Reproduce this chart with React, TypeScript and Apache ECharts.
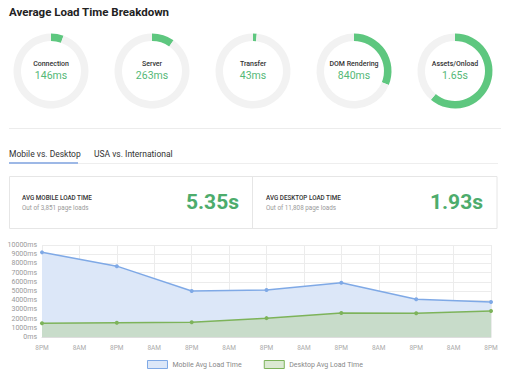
import React, { useEffect, useRef } from "react";
import * as echarts from "echarts";

const breakdownLabels = ["Connection", "Server", "Transfer", "DOM Rendering", "Assets/Onload"];
const breakdownValues = [146, 263, 43, 840, 1650];
const breakdownText = ["146ms", "263ms", "43ms", "840ms", "1.65s"];
const ringMax = 2700;
const tabLabels = ["Mobile vs. Desktop", "USA vs. International"];
const statTitles = ["AVG MOBILE LOAD TIME", "AVG DESKTOP LOAD TIME"];
const statSubs = ["Out of 3,851 page loads", "Out of 11,808 page loads"];
const statValues = ["5.35s", "1.93s"];
const timeLabels = ["8PM", "8AM", "8PM", "8AM", "8PM", "8AM", "8PM", "8AM", "8PM", "8AM", "8PM", "8AM", "8PM"];
const mobileValues = [9200, null, 7700, null, 5000, null, 5100, null, 5900, null, 4100, null, 3800];
const desktopValues = [1500, null, 1550, null, 1600, null, 2050, null, 2600, null, 2580, null, 2830];
const seriesNames = ["Mobile Avg Load Time", "Desktop Avg Load Time"];

const FONT = "Roboto, 'Noto Sans', sans-serif";
const GREEN = "#5ec77f";
const GREEN_TEXT = "#55b877";
const BLUE_LINE = "#7fa9e6";
const BLUE_FILL = "#dce7f8";
const DESK_LINE = "#7db35a";
const DESK_FILL = "#c8dcca";

export default function App() {
  const ref = useRef<HTMLDivElement>(null);
  useEffect(() => {
    if (!ref.current) return;
    const chart = echarts.init(ref.current, undefined, { renderer: "svg" });
    const ringCenters = [51, 152, 253, 354, 455];
    const pies: any[] = breakdownValues.map((v, i) => ({
      type: "pie",
      silent: true,
      center: [ringCenters[i], 71],
      radius: [30, 37.5],
      startAngle: 90,
      clockwise: true,
      label: { show: false },
      labelLine: { show: false },
      emphasis: { disabled: true },
      data: [
        { value: v, itemStyle: { color: GREEN } },
        { value: ringMax - v, itemStyle: { color: "#f2f2f2" } },
      ],
    }));
    const graphics: any[] = [
      {
        type: "text",
        left: 9,
        top: 6,
        style: { text: "Average Load Time Breakdown", font: `bold 11.5px ${FONT}`, fill: "#222" },
      },
    ];
    breakdownLabels.forEach((l, i) => {
      graphics.push({
        type: "text",
        x: ringCenters[i],
        y: 63.5,
        style: { text: l, font: `500 7px ${FONT}`, fill: "#333", align: "center", verticalAlign: "middle" },
      });
      graphics.push({
        type: "text",
        x: ringCenters[i],
        y: 75.5,
        style: { text: breakdownText[i], font: `10.5px ${FONT}`, fill: GREEN_TEXT, align: "center", verticalAlign: "middle" },
      });
    });
    graphics.push(
      { type: "line", shape: { x1: 9, y1: 128.5, x2: 501, y2: 128.5 }, style: { stroke: "#ececec", lineWidth: 1 } },
      {
        type: "text",
        x: 9,
        y: 154,
        style: { text: tabLabels[0], font: `8.5px ${FONT}`, fill: "#333", verticalAlign: "middle" },
      },
      {
        type: "text",
        x: 94,
        y: 154,
        style: { text: tabLabels[1], font: `8.5px ${FONT}`, fill: "#333", verticalAlign: "middle" },
      },
      { type: "line", shape: { x1: 9, y1: 163.5, x2: 498, y2: 163.5 }, style: { stroke: "#eeeeee", lineWidth: 1 } },
      { type: "rect", shape: { x: 9, y: 162, width: 69, height: 2 }, style: { fill: "#9db8e6" } },
      {
        type: "rect",
        shape: { x: 9.5, y: 176.5, width: 487.5, height: 52 },
        style: { fill: "#fff", stroke: "#e6e6e6", lineWidth: 1 },
      },
      { type: "line", shape: { x1: 252.5, y1: 177, x2: 252.5, y2: 228 }, style: { stroke: "#e6e6e6", lineWidth: 1 } }
    );
    const statX = [22, 266];
    const statR = [239, 483];
    statTitles.forEach((t, i) => {
      graphics.push(
        {
          type: "text",
          x: statX[i],
          y: 197.5,
          style: { text: t, font: `500 6.3px ${FONT}`, fill: "#333", verticalAlign: "middle" },
        },
        {
          type: "text",
          x: statX[i],
          y: 207.5,
          style: { text: statSubs[i], font: `6.3px ${FONT}`, fill: "#999", verticalAlign: "middle" },
        },
        {
          type: "text",
          x: statR[i],
          y: 202,
          style: { text: statValues[i], font: `bold 21px ${FONT}`, fill: "#4dac6c", align: "right", verticalAlign: "middle" },
        }
      );
    });

    chart.setOption({
      animation: false,
      grid: { left: 42, right: 19, top: 245, bottom: 38, containLabel: false },
      legend: {
        left: "center",
        top: 355,
        itemWidth: 20,
        itemHeight: 8,
        itemGap: 22,
        icon: "rect",
        textStyle: { fontSize: 7, color: "#888", fontFamily: FONT },
        data: [
          { name: seriesNames[0], itemStyle: { color: BLUE_FILL, borderColor: BLUE_LINE, borderWidth: 1 } },
          { name: seriesNames[1], itemStyle: { color: "#dbe9d2", borderColor: DESK_LINE, borderWidth: 1 } },
        ],
      },
      xAxis: {
        type: "category",
        data: timeLabels,
        boundaryGap: false,
        axisLine: { lineStyle: { color: "#ddd" } },
        axisTick: { show: false },
        axisLabel: { fontSize: 6.5, color: "#aaa", fontFamily: FONT, margin: 7, interval: 0 },
        splitLine: { show: true, lineStyle: { color: "#ececec" } },
      },
      yAxis: {
        type: "value",
        min: 0,
        max: 10000,
        interval: 1000,
        axisLine: { show: false },
        axisTick: { show: false },
        axisLabel: {
          fontSize: 7,
          color: "#999",
          fontFamily: FONT,
          margin: 5,
          formatter: (v: number) => `${v}ms`,
        },
        splitLine: { lineStyle: { color: "#ececec" } },
      },
      series: [
        ...pies,
        {
          name: seriesNames[0],
          type: "line",
          data: mobileValues,
          connectNulls: true,
          symbol: "circle",
          symbolSize: 4,
          itemStyle: { color: BLUE_LINE },
          lineStyle: { color: BLUE_LINE, width: 1.5 },
          areaStyle: { color: BLUE_FILL, opacity: 1 },
          z: 2,
        },
        {
          name: seriesNames[1],
          type: "line",
          data: desktopValues,
          connectNulls: true,
          symbol: "circle",
          symbolSize: 4,
          itemStyle: { color: DESK_LINE },
          lineStyle: { color: DESK_LINE, width: 1.5 },
          areaStyle: { color: DESK_FILL, opacity: 1 },
          z: 3,
        },
      ],
      graphic: graphics,
    });
    return () => chart.dispose();
  }, []);
  return (
    <div
      ref={ref}
      style={{ position: "fixed", left: 0, top: 0, width: 510, height: 375, background: "#fff" }}
    />
  );
}
